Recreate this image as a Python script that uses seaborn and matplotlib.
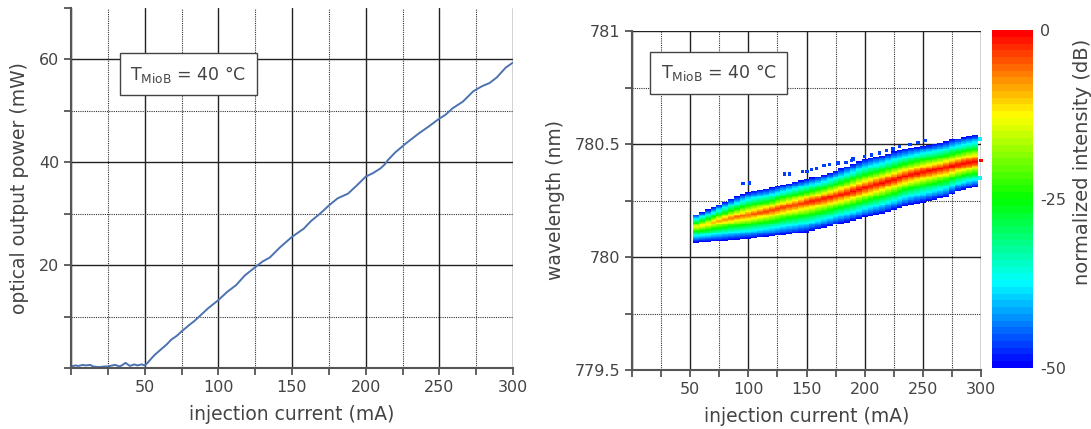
import numpy as np
import matplotlib
matplotlib.use("Agg")
import matplotlib.pyplot as plt
import seaborn as sns
from matplotlib.colors import ListedColormap, hsv_to_rgb
from matplotlib.ticker import MultipleLocator, FuncFormatter, FixedLocator

# ---------------- data: P-I curve ----------------
pi_current = [0, 3, 5, 8, 10, 13, 15, 18, 20, 23, 25, 28, 30, 33, 35, 37, 40, 43, 45, 48, 50,
              52, 55, 57, 61, 65, 68, 72, 75, 80, 84, 87, 93, 100, 106, 112, 118, 125, 130,
              135, 142, 150, 158, 163, 169, 175, 181, 188, 194, 200, 205, 210, 213, 215, 220,
              227, 236, 243, 250, 254, 259, 266, 273, 279, 284, 289, 295, 300]
pi_power = [0.3, 0.5, 0.4, 0.6, 0.5, 0.6, 0.3, 0.2, 0.2, 0.3, 0.3, 0.5, 0.6, 0.3, 0.6, 1.0, 0.4, 0.7, 0.5, 0.7, 0.5,
            1.0, 2.0, 2.6, 3.6, 4.6, 5.5, 6.3, 7.1, 8.3, 9.2, 10.0, 11.6, 13.2, 14.8, 16.1, 18.0, 19.6, 20.7,
            21.5, 23.5, 25.5, 27.1, 28.6, 30.0, 31.6, 33.0, 33.9, 35.5, 37.2, 37.9, 38.8, 39.6, 40.4, 41.9,
            43.6, 45.6, 47.0, 48.5, 49.2, 50.5, 51.8, 53.8, 54.8, 55.4, 56.5, 58.4, 59.4]

# ---------------- data: spectral map ----------------
map_current = [55, 60, 65, 70, 75, 80, 85, 90, 95, 100, 105, 110, 115, 120, 125, 130, 135, 140,
               145, 150, 155, 160, 165, 170, 175, 180, 185, 190, 195, 200, 205, 210, 215, 220,
               225, 230, 235, 240, 245, 250, 255, 260, 265, 270, 275, 280, 285, 290, 295]
peak_wl = [780.134, 780.140, 780.147, 780.154, 780.160, 780.166, 780.172, 780.177, 780.181, 780.186,
           780.191, 780.196, 780.201, 780.207, 780.213, 780.219, 780.225, 780.230, 780.236, 780.242,
           780.247, 780.252, 780.258, 780.264, 780.270, 780.276, 780.282, 780.290, 780.298, 780.306,
           780.313, 780.320, 780.327, 780.335, 780.342, 780.350, 780.357, 780.364, 780.370, 780.376,
           780.381, 780.386, 780.391, 780.396, 780.402, 780.408, 780.413, 780.417, 780.421]
upper_edge_wl = [780.190, 780.200, 780.211, 780.221, 780.232, 780.245, 780.257, 780.268, 780.280, 780.288,
                 780.293, 780.298, 780.302, 780.308, 780.314, 780.320, 780.326, 780.333, 780.339, 780.345,
                 780.351, 780.357, 780.364, 780.373, 780.382, 780.391, 780.402, 780.412, 780.423, 780.433,
                 780.439, 780.445, 780.450, 780.458, 780.467, 780.473, 780.478, 780.483, 780.488, 780.493,
                 780.497, 780.501, 780.506, 780.511, 780.520, 780.526, 780.531, 780.536, 780.541]
lower_edge_wl = [780.066, 780.068, 780.069, 780.071, 780.072, 780.074, 780.076, 780.078, 780.080, 780.081,
                 780.084, 780.087, 780.089, 780.092, 780.095, 780.098, 780.101, 780.104, 780.107, 780.110,
                 780.117, 780.123, 780.130, 780.137, 780.143, 780.148, 780.154, 780.161, 780.168, 780.176,
                 780.182, 780.188, 780.193, 780.201, 780.209, 780.217, 780.226, 780.232, 780.237, 780.242,
                 780.248, 780.254, 780.260, 780.266, 780.280, 780.291, 780.298, 780.304, 780.309]
peak_db = [-13, -11, -10, -9, -8, -7, -6, -5.5, -5, -4.5, -4, -4, -3.5, -3.5, -3, -3, -3, -2.5, -2.5, -2,
           -1.5, -1.5, -1, -1, -1, -1, -1, -0.5, -0.5, -0.5, -0.5, -0.5, -0.5, -0.5, -0.5, -0.5, -0.5,
           -0.5, -0.5, -0.5, -0.5, -0.5, -0.5, -0.3, -0.3, -0.2, -0.1, 0, 0]
# line-shape: relative offset from peak (0 = peak, 1 = -50 dB edge) -> fraction of dB drop
profile_offset = [0.0, 0.1, 0.3, 0.55, 0.8, 1.0]
profile_drop = [0.0, 0.1, 0.33, 0.6, 0.83, 1.0]

# weak side modes
side_current = [95.4, 100.9, 131, 135.6, 146.6, 150.6, 154.3, 158.6, 164.9, 170, 177, 184, 188.5, 190,
                200, 205.7, 213, 218.7, 224.4, 230, 238.8, 246, 251.7]
side_wl = [780.324, 780.328, 780.368, 780.368, 780.379, 780.379, 780.387, 780.392, 780.404, 780.409,
           780.416, 780.419, 780.426, 780.434, 780.446, 780.451, 780.460, 780.471, 780.478, 780.488,
           780.497, 780.507, 780.515]
side_db = [-47] * len(side_current)
edge_current = [299, 300, 299]
edge_wl = [780.522, 780.428, 780.350]
edge_db = [-38, -1, -37]

# ---------------- style ----------------
sns.set_style("ticks")
plt.rcParams['font.family'] = ['DejaVu Sans']
plt.rcParams['axes.unicode_minus'] = False
TXT = '#444444'
plt.rcParams.update({'text.color': TXT, 'axes.labelcolor': TXT, 'xtick.color': '#555555',
                     'ytick.color': '#555555', 'xtick.labelcolor': TXT, 'ytick.labelcolor': TXT})

fig = plt.figure(figsize=(10.91, 4.29), dpi=100)
W, H = 1091, 429
ax1 = fig.add_axes([71 / W, 1 - 368 / H, (513 - 71) / W, (368 - 8) / H])
ax2 = fig.add_axes([632 / W, 1 - 370 / H, (981 - 632) / W, (370 - 31) / H])
cax = fig.add_axes([992 / W, 1 - 368 / H, 41 / W, (368 - 30) / H])

hues = np.linspace(240 / 360, 0, 50)
cmap = ListedColormap(hsv_to_rgb(np.column_stack([hues, np.ones(50), np.ones(50)])))


def style_axes(ax):
    for s in ['top', 'right']:
        ax.spines[s].set_visible(False)
    for s in ['left', 'bottom']:
        ax.spines[s].set_color('#555555')
        ax.spines[s].set_linewidth(1.5)
    ax.tick_params(which='both', direction='out', length=5, width=1.3, labelsize=11.5)
    ax.grid(which='major', color='#222222', lw=1.0, ls='-')
    ax.grid(which='minor', color='#333333', lw=0.8, ls=(0, (1, 1)))
    ax.set_axisbelow(True)


# ---------------- left: P-I ----------------
sns.lineplot(x=pi_current, y=pi_power, ax=ax1, color='#4c72b0', lw=1.4)
ax1.set_xlim(0, 300)
ax1.set_ylim(0, 70)
ax1.xaxis.set_major_locator(MultipleLocator(50))
ax1.xaxis.set_minor_locator(FixedLocator([25, 75, 125, 175, 225, 275]))
ax1.yaxis.set_major_locator(FixedLocator([0, 20, 40, 60]))
ax1.yaxis.set_minor_locator(FixedLocator([10, 30, 50, 70]))
fmt = FuncFormatter(lambda v, p: '' if v == 0 else f'{v:g}')
ax1.xaxis.set_major_formatter(fmt)
ax1.yaxis.set_major_formatter(fmt)
style_axes(ax1)
locs = ax1.yaxis.get_minorticklocs()
for loc, t in zip(locs, ax1.yaxis.get_minor_ticks(len(locs))):
    if loc == 70:
        t.gridline.set_visible(False)
ax1.set_xlabel('injection current (mA)', fontsize=13.5, labelpad=7)
ax1.set_ylabel('optical output power (mW)', fontsize=13.5, labelpad=7)
ax1.text(79.6, 57.1, r'T$_{\mathrm{MioB}}$ = 40 °C', fontsize=12.5, ha='center', va='center',
         bbox=dict(boxstyle='square,pad=0.6', fc='white', ec='#444444', lw=1.0), zorder=5)

# ---------------- right: spectral map ----------------
cur = np.array(map_current, float)
cur_edges = np.append(cur - 2.5, cur[-1] + 2.5)
wl_edges = np.arange(780.0, 780.6 + 1e-9, 0.004)
wl_c = 0.5 * (wl_edges[1:] + wl_edges[:-1])
Z = np.full((len(wl_c), len(cur)), np.nan)
for j in range(len(cur)):
    c, t, b, p = peak_wl[j], upper_edge_wl[j], lower_edge_wl[j], peak_db[j]
    d = np.where(wl_c >= c, (wl_c - c) / (t - c), (c - wl_c) / (c - b))
    drop = np.interp(d, profile_offset, profile_drop)
    val = p + (-50 - p) * drop
    val[d > 1] = np.nan
    Z[:, j] = val
Zm = np.ma.masked_invalid(Z)
mesh = ax2.pcolormesh(cur_edges, wl_edges, Zm, cmap=cmap, vmin=-50, vmax=0, shading='flat', zorder=2)
ax2.scatter(side_current, side_wl, c=side_db, cmap=cmap, vmin=-50, vmax=0, marker='s', s=6,
            linewidths=0, zorder=3)
ax2.scatter(edge_current, edge_wl, c=edge_db, cmap=cmap, vmin=-50, vmax=0, marker='s', s=6,
            linewidths=0, zorder=3, clip_on=False)
ax2.set_xlim(0, 300)
ax2.set_ylim(779.5, 781)
ax2.xaxis.set_major_locator(MultipleLocator(50))
ax2.xaxis.set_minor_locator(FixedLocator([25, 75, 125, 175, 225, 275]))
ax2.yaxis.set_major_locator(FixedLocator([779.5, 780, 780.5, 781]))
ax2.yaxis.set_minor_locator(FixedLocator([779.75, 780.25, 780.75]))
ax2.xaxis.set_major_formatter(fmt)
ax2.yaxis.set_major_formatter(FuncFormatter(lambda v, p: f'{v:g}'))
style_axes(ax2)
ax2.set_xlabel('injection current (mA)', fontsize=13.5, labelpad=7)
ax2.set_ylabel('wavelength (nm)', fontsize=13.5, labelpad=7)
ax2.text(74.6, 780.816, r'T$_{\mathrm{MioB}}$ = 40 °C', fontsize=12.5, ha='center', va='center',
         bbox=dict(boxstyle='square,pad=0.6', fc='white', ec='#444444', lw=1.0), zorder=5)

cb = fig.colorbar(mesh, cax=cax, ticks=[0, -25, -50])
cb.outline.set_visible(False)
cb.ax.tick_params(length=0, labelsize=11.5, pad=5)
cb.ax.set_yticklabels(['0', '-25', '-50'])
fig.text(1082 / W, 1 - 162 / H, 'normalized intensity (dB)', rotation=90, ha='center', va='center',
         fontsize=14, color=TXT)

fig.savefig('out.png', dpi=100)
